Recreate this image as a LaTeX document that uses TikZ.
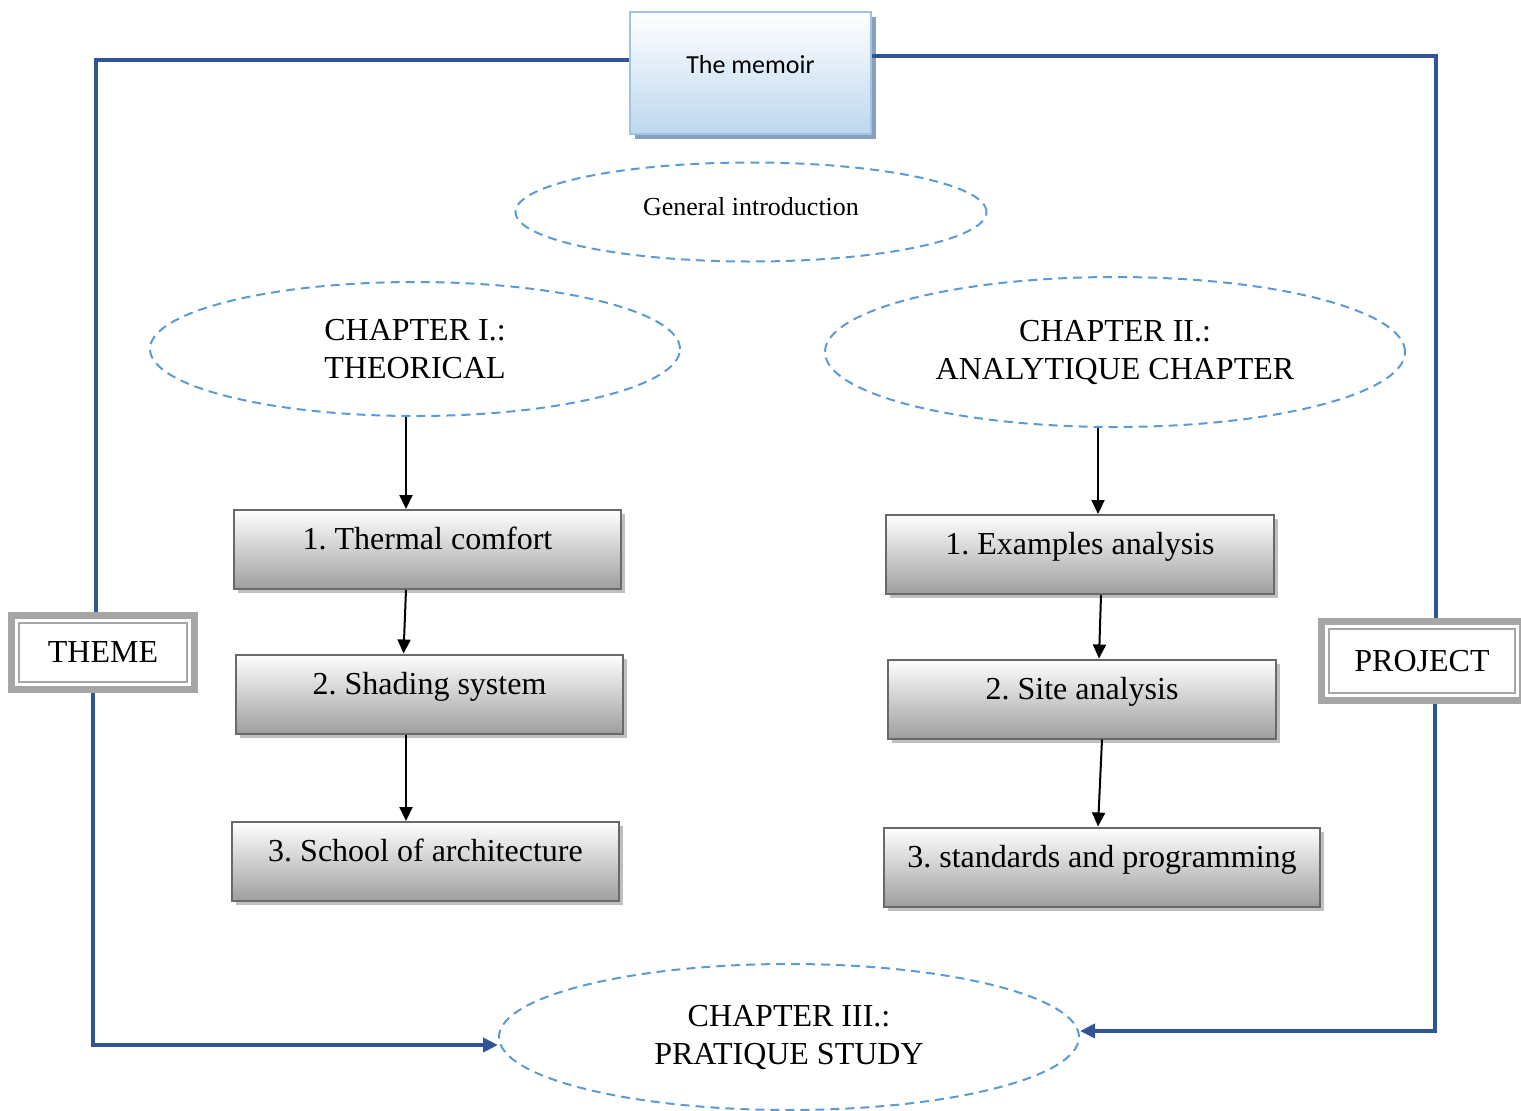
\documentclass[tikz,border=0pt]{standalone}
\usepackage{fontspec}
\setmainfont{Liberation Serif}
\newfontfamily\calibri{Carlito}
\usetikzlibrary{arrows.meta,shapes.geometric,shadows}
\definecolor{frameblue}{RGB}{47,85,151}
\definecolor{dashblue}{RGB}{91,155,213}
\definecolor{memoirblue}{RGB}{189,215,238}
\definecolor{memoiredge}{RGB}{157,195,230}
\definecolor{memoirshade}{RGB}{135,160,190}
\definecolor{boxedge}{RGB}{105,105,105}
\frenchspacing

\begin{document}
\begin{tikzpicture}[x=0.5pt,y=-0.5pt]
\tikzset{chap/.style={ellipse,draw=dashblue,line width=1pt,dash pattern=on 4.5pt off 3pt,align=center,inner sep=0pt,font=\fontsize{16}{19}\selectfont}}
\tikzset{item/.style={rectangle,draw=boxedge,line width=1pt,top color=white,bottom color=black!38,minimum width=193.5pt,minimum height=39.5pt,text height=5pt,text depth=5pt,font=\fontsize{16}{19}\selectfont,general shadow={fill=black!25,shadow xshift=2pt,shadow yshift=-2pt}}}
\tikzset{tag/.style={rectangle,draw=black!35,line width=3.5pt,minimum height=37pt,font=\fontsize{16}{19}\selectfont}}
\tikzset{link/.style={frameblue,line width=2pt}}
\tikzset{arr/.style={line width=1pt,-{Triangle[length=7pt,width=6.5pt]}}}
\useasboundingbox (0,0) rectangle (1521,1110);

\node[rectangle,draw=memoiredge,line width=1pt,top color=white,bottom color=memoirblue,minimum width=120.5pt,minimum height=61pt,text height=6pt,text depth=6pt,font=\calibri\fontsize{13}{15}\selectfont,general shadow={fill=memoirshade,shadow xshift=2.5pt,shadow yshift=-2.5pt}] (memoir) at (750.5,73) {The memoir};
\node[chap,minimum width=235.5pt,minimum height=49.5pt,text depth=6pt,font=\fontsize{13}{15}\selectfont] (intro) at (751,212) {General introduction};

\node[chap,minimum width=265pt,minimum height=67pt] (ch1) at (415,349) {CHAPTER I.:\\THEORICAL};
\node[chap,minimum width=290pt,minimum height=75pt] (ch2) at (1115,352) {CHAPTER II.:\\ANALYTIQUE CHAPTER};
\node[chap,minimum width=290pt,minimum height=73pt] (ch3) at (789,1037) {CHAPTER III.:\\PRATIQUE STUDY};

% left column
\node[item] (b1) at (427.5,549.5) {1. Thermal comfort};
\node[item] (b2) at (429.5,694) {2. Shading system};
\node[item] (b3) at (425.5,861.5) {3. School of architecture};
% right column
\node[item,minimum width=194pt] (r1) at (1080,554.5) {1. Examples analysis};
\node[item,minimum width=194pt] (r2) at (1082,699) {2. Site analysis};
\node[item,minimum width=218pt] (r3) at (1102,867) {3. standards and programming};

\node[tag,minimum width=91.5pt] (theme) at (103,652.5) {THEME};
\node[tag,minimum width=100.5pt,minimum height=39.5pt] (project) at (1422,661) {PROJECT};
\draw[black!35,line width=1pt] ([shift={(5.5pt,-5.5pt)}]theme.north west) rectangle ([shift={(-5.5pt,5.5pt)}]theme.south east);
\draw[black!35,line width=1pt] ([shift={(5.5pt,-5.5pt)}]project.north west) rectangle ([shift={(-5.5pt,5.5pt)}]project.south east);

\draw[arr] ([xshift=-4.5pt]ch1.south) -- ([xshift=-10.75pt]b1.north);
\draw[arr] ([xshift=-10.75pt]b1.south) -- ([xshift=-13pt]b2.north);
\draw[arr] ([xshift=-11.75pt]b2.south) -- ([xshift=-9.75pt]b3.north);
\draw[arr] ([xshift=-8.5pt]ch2.south) -- ([xshift=9pt]r1.north);
\draw[arr] ([xshift=10.5pt]r1.south) -- ([xshift=8.5pt]r2.north);
\draw[arr] ([xshift=10pt]r2.south) -- ([xshift=-2pt]r3.north);

% frame round the chapters
\coordinate (tl) at (96,60);
\coordinate (tr) at (1436,56);
\coordinate (bl) at (93,1045);
\coordinate (br) at (1435,1031);
\draw[link] (memoir.west |- tl) -- (tl) -- (tl |- theme.north);
\draw[link] (memoir.east |- tr) -- (tr) -- (tr |- project.north);
\draw[link,-{Triangle[length=7.5pt,width=7pt]}] (theme.south -| bl) -- (bl) -- (ch3.west |- bl);
\draw[link,-{Triangle[length=7.5pt,width=7pt]}] (project.south -| br) -- (br) -- (ch3.east |- br);
\end{tikzpicture}
\end{document}
